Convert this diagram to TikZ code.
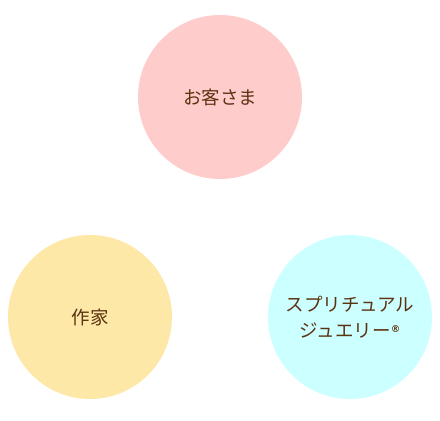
\documentclass[tikz,border=0pt]{standalone}
\usepackage{fontspec}
\setmainfont{Noto Sans CJK JP}
\newfontfamily\regfont{DejaVu Sans}
\definecolor{pinkfill}{HTML}{FFCCCC}
\definecolor{yellowfill}{HTML}{FDE8A8}
\definecolor{cyanfill}{HTML}{CCFFFF}
\definecolor{textbrown}{HTML}{5C3311}
\newcommand{\regmark}{\raisebox{5bp}{\regfont\bfseries\fontsize{9.5bp}{9.5bp}\selectfont ®}}
\begin{document}
\begin{tikzpicture}[x=1bp,y=-1bp,
  bubble/.style={circle, minimum size=164bp, inner sep=0pt, draw=none, text=textbrown, align=center,
    font=\fontsize{18.5bp}{26bp}\selectfont}]
\useasboundingbox (0,0) rectangle (440,420);
\node[bubble, fill=pinkfill] (client) at (220,97) {お客さま};
\node[bubble, fill=yellowfill] (artist) at (90,317) {作家};
\node[bubble, fill=cyanfill] (jewelry) at (350,317) {スプリチュアル\\ジュエリー\regmark};
\end{tikzpicture}
\end{document}
